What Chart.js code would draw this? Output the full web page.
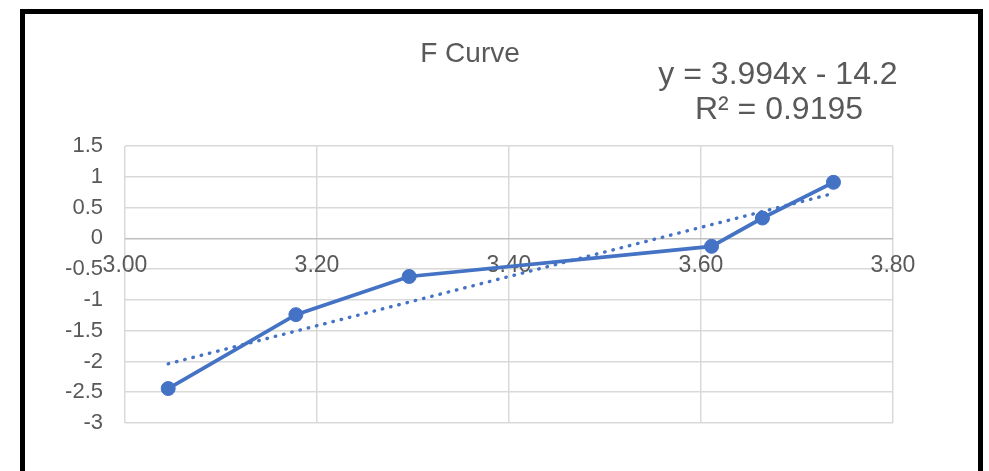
<!DOCTYPE html>
<html lang="en">
<head>
<meta charset="UTF-8">
<title>F Curve</title>
<script src="https://cdn.jsdelivr.net/npm/chart.js"></script>
<style>
  html, body { margin: 0; padding: 0; background: #fff; }
  body { width: 989px; height: 471px; overflow: hidden; position: relative; }
  #frame { position: absolute; left: 20px; top: 9px; width: 953px; height: 520px; border: 5px solid #000; }
  #fCurve { position: absolute; left: 0; top: 0; }
</style>
</head>
<body>
<div id="frame"></div>
<canvas id="fCurve" width="989" height="471"></canvas>
<script>
// readings
const xValues = [3.045, 3.178, 3.296, 3.611, 3.664, 3.738];
const yValues = [-2.44, -1.24, -0.62, -0.13, 0.33, 0.91];

// linear trendline as printed on the chart
const trendSlope = 3.994;
const trendIntercept = -14.2;
const trendText = ['y = 3.994x - 14.2', 'R\u00b2 = 0.9195'];
const chartTitle = 'F Curve';

const xTicks = [3.0, 3.2, 3.4, 3.6, 3.8];
const yTicks = [1.5, 1, 0.5, 0, -0.5, -1, -1.5, -2, -2.5, -3];

const blue = '#4472C4';
const textGrey = '#595959';
const gridGrey = '#d9d9d9';
const fontFamily = '"Liberation Sans", Arial, sans-serif';

const curvePoints = xValues.map((x, i) => ({ x: x, y: yValues[i] }));
const xFirst = Math.min(...xValues);
const xLast = Math.max(...xValues);
const trendPoints = [xFirst, xLast].map(x => ({ x: x, y: trendSlope * x + trendIntercept }));

// title and trendline equation
const textPlugin = {
  id: 'chartText',
  afterDraw(chart) {
    const ctx = chart.ctx;
    ctx.save();
    ctx.fillStyle = textGrey;
    ctx.textAlign = 'center';
    ctx.textBaseline = 'alphabetic';
    ctx.font = '28px ' + fontFamily;
    ctx.fillText(chartTitle, 470, 62);
    ctx.font = '32px ' + fontFamily;
    ctx.fillText(trendText[0], 778, 84);
    ctx.fillText(trendText[1], 779, 119);
    ctx.restore();
  }
};

new Chart(document.getElementById('fCurve'), {
  type: 'scatter',
  data: {
    datasets: [
      {
        label: 'Linear (F)',
        data: trendPoints,
        showLine: true,
        borderColor: blue,
        borderWidth: 3.4,
        borderDash: [0.5, 8],
        borderCapStyle: 'round',
        pointRadius: 0,
        order: 0
      },
      {
        label: 'F',
        data: curvePoints,
        showLine: true,
        borderColor: blue,
        backgroundColor: blue,
        borderWidth: 3.75,
        pointRadius: 7,
        pointBorderWidth: 1,
        pointBackgroundColor: blue,
        pointBorderColor: blue,
        order: 1
      }
    ]
  },
  options: {
    responsive: false,
    animation: false,
    events: [],
    layout: { padding: { left: 0, top: 146, right: 96, bottom: 48 } },
    plugins: {
      legend: { display: false },
      tooltip: { enabled: false },
      title: { display: false }
    },
    scales: {
      x: {
        type: 'linear',
        position: { y: 0 },
        min: xTicks[0],
        max: xTicks[xTicks.length - 1],
        afterBuildTicks: scale => { scale.ticks = xTicks.map(v => ({ value: v })); },
        grid: { color: gridGrey, lineWidth: 1.5, drawTicks: false },
        border: { display: false },
        ticks: {
          color: textGrey,
          font: { family: fontFamily, size: 23 },
          padding: 14,
          maxRotation: 0,
          autoSkip: false,
          callback: v => Number(v).toFixed(2)
        }
      },
      y: {
        type: 'linear',
        position: 'left',
        min: yTicks[yTicks.length - 1],
        max: yTicks[0],
        afterBuildTicks: scale => { scale.ticks = yTicks.slice().reverse().map(v => ({ value: v })); },
        afterFit: scale => { scale.width = 125; },
        grid: {
          color: ctx => (ctx.tick && ctx.tick.value === 0) ? '#bfbfbf' : gridGrey,
          lineWidth: 1.5,
          drawTicks: false
        },
        border: { display: false },
        ticks: {
          color: textGrey,
          font: { family: fontFamily, size: 22 },
          padding: 22,
          autoSkip: false,
          callback: v => String(v)
        }
      }
    }
  },
  plugins: [textPlugin]
});
</script>
</body>
</html>
